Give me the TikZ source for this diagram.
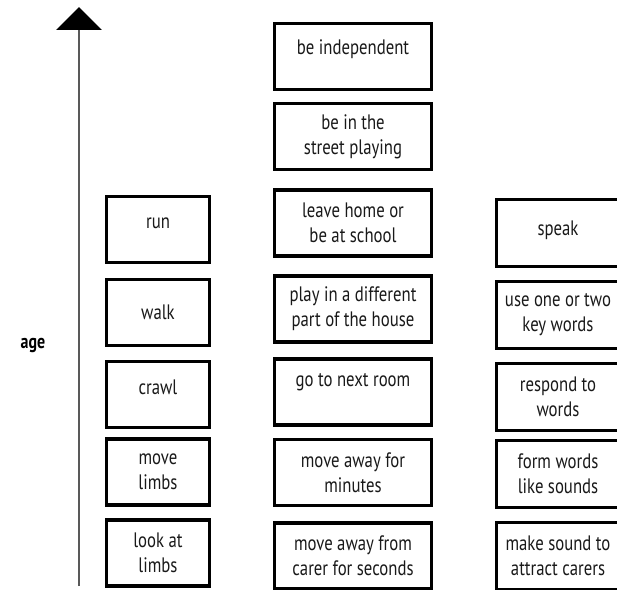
\documentclass[tikz,border=0pt]{standalone}
\usepackage{fontspec}
\setmainfont[FakeStretch=0.8]{PT Sans}
\usetikzlibrary{arrows.meta}
\begin{document}
\begin{tikzpicture}[x=1bp,y=-1bp,
  stagebox/.style={draw=black, line width=3.5bp, align=center, inner sep=0pt,
    font=\fontsize{21}{25}\selectfont, text=black!90},
  leftbox/.style={stagebox, minimum width=103bp, minimum height=66bp},
  midbox/.style={stagebox, minimum width=157bp, minimum height=66bp},
  rightbox/.style={stagebox, minimum width=123bp, minimum height=67bp},
  lifttext/.style={text depth=#1},
  axisline/.style={line width=2.5bp, draw=black!65,
    -{Triangle[width=45bp,length=23bp,color=black]}},
]
\useasboundingbox (0,0) rectangle (617,590);
\clip (0,0) rectangle (617,590);

% age axis
\coordinate (axisbottom) at (79,586);
\coordinate (axistop) at (79,7);
\draw[axisline] (axisbottom) -- (axistop);
\node[anchor=base, font=\fontsize{20}{22}\selectfont\bfseries] (agelabel) at (33,348) {age};

% movement
\node[leftbox, lifttext=13bp]   (run)    at (158,229.5) {run};
\node[leftbox]                  (walk)   at (158,312.5) {walk};
\node[leftbox, lifttext=14bp]   (crawl)  at (158,394.5) {crawl};
\node[leftbox]                  (limbs)  at (158,472)   {move\\limbs};
\node[leftbox]                  (look)   at (158,553)   {look at\\limbs};

% independence
\node[midbox, lifttext=19bp]   (indep)   at (353,56.5)  {be independent};
\node[midbox]                  (street)  at (353,136.5) {be in the\\street playing};
\node[midbox]                  (school)  at (353,223)   {leave home or\\be at school};
\node[midbox]                  (house)   at (353,309)   {play in a different\\part of the house};
\node[midbox, lifttext=25bp]   (room)    at (353,392)   {go to next room};
\node[midbox]                  (minutes) at (353,472.5) {move away for\\minutes};
\node[midbox]                  (seconds) at (353,556)   {move away from\\carer for seconds};

% language
\node[rightbox, lifttext=10bp]   (speak)   at (558,233) {speak};
\node[rightbox]                  (keyword) at (558,315) {use one or two\\key words};
\node[rightbox]                  (respond) at (558,397) {respond to\\words};
\node[rightbox]                  (form)    at (558,474) {form words\\like sounds};
\node[rightbox]                  (sound)   at (558,556) {make sound to\\attract carers};
\end{tikzpicture}
\end{document}
